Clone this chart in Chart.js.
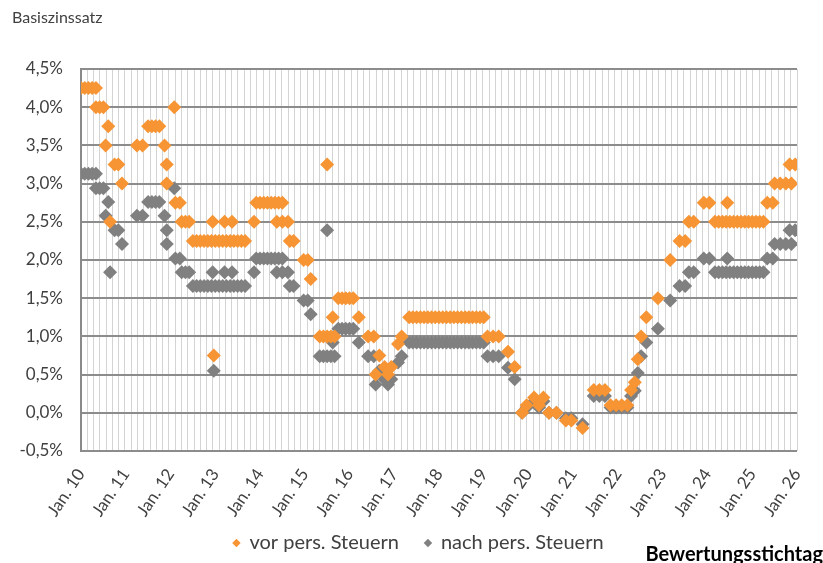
<!DOCTYPE html>
<html lang="de">
<head>
    <meta charset="UTF-8">
    <title>Basiszinssatz</title>
    <script src="https://cdn.jsdelivr.net/npm/chart.js"></script>
    <style>
        body { margin: 0; background: #fff; }
        .rahmen { width: 823px; height: 563px; position: relative; }
    </style>
</head>
<body>
    <div class="rahmen">
        <canvas id="grafik"></canvas>
    </div>

    <script>
        // Bewertungsstichtage in Monaten ab Jan. 2010
        const monate = [
            0, 1, 2, 3, 4, 4, 5, 6, 6.6, 7.3, 7.8, 9, 10, 11,
            15, 16.5, 18, 19, 20, 21, 22.4, 23, 23,
            25, 25.3, 26.5, 27, 28, 29, 30, 31, 32, 33, 34, 35, 35.3, 35.6,
            36, 37, 38, 38.5, 39, 40, 40.5, 41, 42, 43, 44, 46.4, 47,
            48, 49, 50, 51, 52, 52.5, 53, 54, 54, 55.5, 56, 57, 59.7,
            60.8, 61.6, 64, 65, 66, 66, 67, 67.5, 68, 69, 70, 71,
            72, 73, 74.5, 77, 78.5, 79, 80, 81.4, 82.3, 83.2,
            85, 86, 88, 89, 90, 91, 92, 93, 94, 95,
            96, 97, 98, 99, 100, 101, 102, 103, 104, 105, 106, 107,
            108, 109, 110.5, 112, 114.5, 116.3, 118.3, 119.5,
            121.5, 122.8, 124, 125.5, 127.5, 130, 131.5,
            134.5, 137.5, 139, 140.5, 142, 143.5,
            145, 146.5, 147.5, 148.5, 149.3, 150.2, 151.6, 154.7,
            158, 160.5, 162, 163, 164.3, 167,
            168.5, 170, 171, 172, 173, 173.3, 174, 175, 176, 177, 178, 179,
            180, 181, 182, 183, 184, 185.5, 186, 187.5, 189, 190, 190.5, 191.5
        ];

        // Basiszinssatz vor persoenlichen Steuern (%)
        const vorSteuern = [
            4.25, 4.25, 4.25, 4.25, 4.25, 4.0, 4.0, 4.0, 3.5, 3.75, 2.5, 3.25, 3.25, 3.0,
            3.5, 3.5, 3.75, 3.75, 3.75, 3.75, 3.5, 3.25, 3.0,
            4.0, 2.75, 2.75, 2.5, 2.5, 2.5, 2.25, 2.25, 2.25, 2.25, 2.25, 2.25, 2.5, 0.75,
            2.25, 2.25, 2.25, 2.5, 2.25, 2.25, 2.5, 2.25, 2.25, 2.25, 2.25, 2.5, 2.75,
            2.75, 2.75, 2.75, 2.75, 2.75, 2.5, 2.75, 2.75, 2.5, 2.5, 2.25, 2.25, 2.0,
            2.0, 1.75, 1.0, 1.0, 1.0, 3.25, 1.0, 1.25, 1.0, 1.5, 1.5, 1.5,
            1.5, 1.5, 1.25, 1.0, 1.0, 0.5, 0.75, 0.6, 0.5, 0.6,
            0.9, 1.0, 1.25, 1.25, 1.25, 1.25, 1.25, 1.25, 1.25, 1.25,
            1.25, 1.25, 1.25, 1.25, 1.25, 1.25, 1.25, 1.25, 1.25, 1.25, 1.25, 1.25,
            1.25, 1.0, 1.0, 1.0, 0.8, 0.6, 0.0, 0.1,
            0.2, 0.1, 0.2, 0.0, 0.0, -0.1, -0.1,
            -0.2, 0.3, 0.3, 0.3, 0.1, 0.1,
            0.1, 0.1, 0.3, 0.4, 0.7, 1.0, 1.25, 1.5,
            2.0, 2.25, 2.25, 2.5, 2.5, 2.75,
            2.75, 2.5, 2.5, 2.5, 2.5, 2.75, 2.5, 2.5, 2.5, 2.5, 2.5, 2.5,
            2.5, 2.5, 2.5, 2.5, 2.75, 2.75, 3.0, 3.0, 3.0, 3.25, 3.0, 3.25
        ];

        // Basiszinssatz nach persoenlichen Steuern (%)
        const nachSteuern = [
            3.13, 3.13, 3.13, 3.13, 3.13, 2.94, 2.94, 2.94, 2.58, 2.76, 1.84, 2.39, 2.39, 2.21,
            2.58, 2.58, 2.76, 2.76, 2.76, 2.76, 2.58, 2.39, 2.21,
            2.94, 2.02, 2.02, 1.84, 1.84, 1.84, 1.66, 1.66, 1.66, 1.66, 1.66, 1.66, 1.84, 0.55,
            1.66, 1.66, 1.66, 1.84, 1.66, 1.66, 1.84, 1.66, 1.66, 1.66, 1.66, 1.84, 2.02,
            2.02, 2.02, 2.02, 2.02, 2.02, 1.84, 2.02, 2.02, 1.84, 1.84, 1.66, 1.66, 1.47,
            1.47, 1.29, 0.74, 0.74, 0.74, 2.39, 0.74, 0.92, 0.74, 1.10, 1.10, 1.10,
            1.10, 1.10, 0.92, 0.74, 0.74, 0.37, 0.55, 0.44, 0.37, 0.44,
            0.66, 0.74, 0.92, 0.92, 0.92, 0.92, 0.92, 0.92, 0.92, 0.92,
            0.92, 0.92, 0.92, 0.92, 0.92, 0.92, 0.92, 0.92, 0.92, 0.92, 0.92, 0.92,
            0.92, 0.74, 0.74, 0.74, 0.59, 0.44, 0.0, 0.07,
            0.15, 0.07, 0.15, 0.0, 0.0, -0.07, -0.07,
            -0.15, 0.22, 0.22, 0.22, 0.07, 0.07,
            0.07, 0.07, 0.22, 0.29, 0.52, 0.74, 0.92, 1.10,
            1.47, 1.66, 1.66, 1.84, 1.84, 2.02,
            2.02, 1.84, 1.84, 1.84, 1.84, 2.02, 1.84, 1.84, 1.84, 1.84, 1.84, 1.84,
            1.84, 1.84, 1.84, 1.84, 2.02, 2.02, 2.21, 2.21, 2.21, 2.39, 2.21, 2.39
        ];

        const jahresLabels = ['Jan. 10', 'Jan. 11', 'Jan. 12', 'Jan. 13', 'Jan. 14', 'Jan. 15',
            'Jan. 16', 'Jan. 17', 'Jan. 18', 'Jan. 19', 'Jan. 20', 'Jan. 21', 'Jan. 22',
            'Jan. 23', 'Jan. 24', 'Jan. 25', 'Jan. 26'];

        const ORANGE = '#F79433';
        const GRAU = '#808080';
        const SCHRIFT = 'Lato, "Open Sans", sans-serif';

        // Titel oben links, Achsentitel unten rechts; Achsenbeschriftung nicht abschneiden
        const beschriftung = {
            id: 'beschriftung',
            beforeDraw(chart) {
                chart.scales.x._computeLabelArea = () => undefined;
                chart.scales.y._computeLabelArea = () => undefined;
            },
            afterDraw(chart) {
                const ctx = chart.ctx;
                ctx.save();
                ctx.textBaseline = 'middle';
                ctx.fillStyle = '#404040';
                ctx.font = '16px ' + SCHRIFT;
                ctx.textAlign = 'left';
                ctx.fillText('Basiszinssatz', 12, 18);
                ctx.fillStyle = '#000';
                ctx.font = 'bold 20px ' + SCHRIFT;
                ctx.textAlign = 'right';
                ctx.fillText('Bewertungsstichtag', chart.width, 555);
                ctx.restore();
            }
        };

        const punkte = werte => monate.map((m, i) => ({ x: m, y: werte[i] }));

        new Chart(document.getElementById('grafik'), {
            type: 'scatter',
            data: {
                datasets: [{
                    label: 'vor pers. Steuern',
                    data: punkte(vorSteuern),
                    backgroundColor: ORANGE,
                    borderWidth: 0,
                    pointStyle: 'rectRot',
                    pointRadius: 7
                }, {
                    label: 'nach pers. Steuern',
                    data: punkte(nachSteuern),
                    backgroundColor: GRAU,
                    borderWidth: 0,
                    pointStyle: 'rectRot',
                    pointRadius: 7
                }]
            },
            options: {
                responsive: true,
                maintainAspectRatio: false,
                animation: false,
                events: [],
                layout: { padding: { left: 40, right: 26, top: 69, bottom: 0 } },
                plugins: {
                    title: { display: false },
                    tooltip: { enabled: false },
                    legend: {
                        position: 'bottom',
                        labels: {
                            usePointStyle: true,
                            boxWidth: 6,
                            boxHeight: 6,
                            padding: 26,
                            color: '#404040',
                            font: { family: SCHRIFT, size: 20 }
                        }
                    }
                },
                scales: {
                    x: {
                        type: 'linear',
                        min: 0,
                        max: 192,
                        afterFit: s => { s.height = 56; },
                        border: { display: false },
                        grid: { display: false },
                        ticks: {
                            stepSize: 12,
                            autoSkip: false,
                            minRotation: 56,
                            maxRotation: 56,
                            padding: 6,
                            color: '#404040',
                            font: { family: SCHRIFT, size: 17 },
                            callback: v => (v % 12 === 0 ? jahresLabels[v / 12] : '')
                        }
                    },
                    raster: {
                        type: 'linear',
                        position: 'bottom',
                        min: 0,
                        max: 192,
                        afterFit: s => { s.height = 0; },
                        border: { display: false },
                        grid: { color: '#d4d4d4', lineWidth: 1, drawTicks: false, borderDash: [3, 2] },
                        ticks: { display: false, stepSize: 1.684, autoSkip: false }
                    },
                    y: {
                        min: -0.5,
                        max: 4.5,
                        afterFit: s => { s.width = 41; },
                        border: { display: true, color: '#8a8a8a', width: 2 },
                        grid: { color: '#8c8c8c', lineWidth: 2, drawTicks: false, borderDash: [6, 2] },
                        ticks: {
                            stepSize: 0.5,
                            padding: 18,
                            color: '#404040',
                            font: { family: SCHRIFT, size: 17 },
                            callback: v => v.toFixed(1).replace('.', ',') + '%'
                        }
                    }
                }
            },
            plugins: [beschriftung]
        });
    </script>
</body>
</html>
